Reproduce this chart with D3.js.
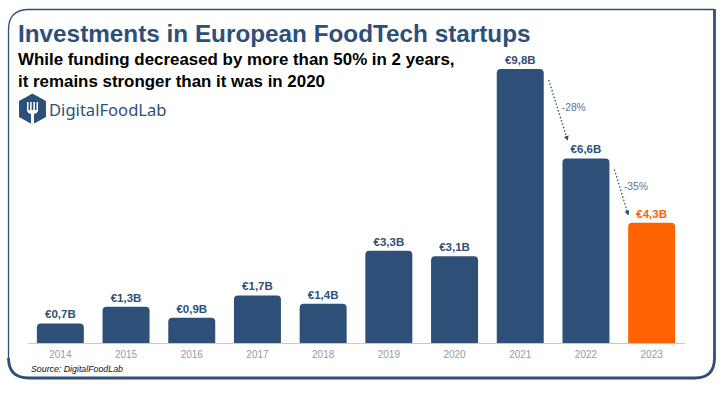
<!DOCTYPE html>
<html>
<head>
<meta charset="utf-8">
<script src="https://cdn.jsdelivr.net/npm/d3@7"></script>
<style>
    html, body { margin: 0; padding: 0; background: #fff; }
    svg { display: block; }
    text { font-family: "Liberation Sans", Arial, sans-serif; }
</style>
</head>
<body>
<div id="chart"></div>
<script>
const years = ['2014', '2015', '2016', '2017', '2018', '2019', '2020', '2021', '2022', '2023'];
const funding = [0.7, 1.3, 0.9, 1.7, 1.4, 3.3, 3.1, 9.8, 6.6, 4.3];
const fundingLabels = ['€0,7B', '€1,3B', '€0,9B', '€1,7B', '€1,4B', '€3,3B', '€3,1B', '€9,8B', '€6,6B', '€4,3B'];
const changes = [
    { from: '2021', to: '2022', label: '-28%' },
    { from: '2022', to: '2023', label: '-35%' }
];

const BLUE = '#2e5078';
const ORANGE = '#ff6200';
const width = 725, height = 393;
const baseline = 343;

const svg = d3.select('#chart').append('svg')
    .attr('width', width)
    .attr('height', height);

const x = d3.scaleBand()
    .domain(years)
    .range([27.5, 684.5])
    .paddingInner(0.285)
    .paddingOuter(0.1425);

const y = d3.scaleLinear()
    .domain([0, 9.8])
    .range([baseline, 69]);

// frame: thin on top/left, heavier on right/bottom
svg.append('path')
    .attr('d', 'M8.5,360 L8.5,30 Q8.5,9.5 29,9.5 L714,9.5')
    .attr('fill', 'none').attr('stroke', BLUE).attr('stroke-width', 1.3);
svg.append('path')
    .attr('d', 'M8.5,358 Q8.5,378 29,378 L695,378 Q714.5,378 714.5,358 L714.5,9')
    .attr('fill', 'none').attr('stroke', BLUE).attr('stroke-width', 2.8);

// titles
svg.append('text')
    .attr('x', 18).attr('y', 42)
    .attr('font-size', 24.3).attr('font-weight', 700).attr('fill', BLUE)
    .text('Investments in European FoodTech startups');

svg.selectAll('.subtitle')
    .data(['While funding decreased by more than 50% in 2 years,', 'it remains stronger than it was in 2020'])
    .join('text')
    .attr('class', 'subtitle')
    .attr('x', 18)
    .attr('y', (d, i) => 65 + i * 22)
    .attr('font-size', 16.9).attr('font-weight', 700).attr('fill', '#000')
    .text(d => d);

// logo
const logo = svg.append('g').attr('transform', 'translate(32.5,109)');
logo.append('path')
    .attr('d', 'M0,-14.5 L12.7,-7.5 L12.7,7.5 L0,14.5 L-12.7,7.5 L-12.7,-7.5 Z')
    .attr('fill', BLUE).attr('stroke', BLUE).attr('stroke-width', 1.5).attr('stroke-linejoin', 'round');
logo.append('path')
    .attr('d', 'M-5.5,-7 V1 Q-5.5,4 -1.5,5 V15 H1.5 V5 Q5.5,4 5.5,1 V-7 H4 V1 H2.4 V-7 H0.8 V1 H-0.8 V-7 H-2.4 V1 H-4 V-7 Z')
    .attr('fill', '#fff');
svg.append('text')
    .attr('x', 49).attr('y', 116)
    .style('font-family', '"Noto Sans", sans-serif')
    .attr('font-size', 16.6).attr('fill', BLUE)
    .text('DigitalFoodLab');

// bars, rounded at the top only
const corner = 4;
svg.selectAll('.bar')
    .data(years)
    .join('path')
    .attr('class', 'bar')
    .attr('fill', d => d === '2023' ? ORANGE : BLUE)
    .attr('d', (d, i) => {
        const x0 = x(d), x1 = x(d) + x.bandwidth(), top = y(funding[i]);
        return `M${x0},${baseline} V${top + corner} Q${x0},${top} ${x0 + corner},${top} `
            + `H${x1 - corner} Q${x1},${top} ${x1},${top + corner} V${baseline} Z`;
    });

svg.selectAll('.value')
    .data(years)
    .join('text')
    .attr('class', 'value')
    .attr('x', d => x(d) + x.bandwidth() / 2)
    .attr('y', (d, i) => y(funding[i]) - 5)
    .attr('text-anchor', 'middle')
    .attr('font-size', 11.5).attr('font-weight', 700)
    .attr('fill', d => d === '2023' ? ORANGE : BLUE)
    .text((d, i) => fundingLabels[i]);

// x axis
const xAxisG = svg.append('g')
    .attr('transform', `translate(0,${baseline})`)
    .call(d3.axisBottom(x).tickSize(0).tickPadding(8));
xAxisG.select('.domain').attr('stroke', '#c9c9c9').attr('stroke-width', 1);
xAxisG.selectAll('text')
    .attr('font-size', 10).attr('fill', '#9a9a9a')
    .style('font-family', '"Liberation Sans", Arial, sans-serif');

// source
svg.append('text')
    .attr('x', 31).attr('y', 371.5)
    .attr('font-size', 8.8).attr('font-style', 'italic').attr('fill', '#111')
    .text('Source: DigitalFoodLab');

// dotted arrows between the last bars
svg.append('defs').append('marker')
    .attr('id', 'arrow')
    .attr('viewBox', '0 0 6 6')
    .attr('refX', 5).attr('refY', 3)
    .attr('markerWidth', 5).attr('markerHeight', 5)
    .attr('markerUnits', 'userSpaceOnUse')
    .attr('orient', 'auto')
    .append('path')
    .attr('d', 'M0,0 L6,3 L0,6 Z')
    .attr('fill', BLUE);

const valueOf = yr => funding[years.indexOf(yr)];
// the first arrow lands above the 2022 label, the second beside the 2023 label
const arrowEndX = [5, 0];
const arrowEndY = [18.5, 8];
const labelDx = [18, 14.5];
const labelDy = [42, 32];

svg.selectAll('.change-line')
    .data(changes)
    .join('line')
    .attr('class', 'change-line')
    .attr('x1', d => x(d.from) + x.bandwidth() + 5)
    .attr('y1', d => y(valueOf(d.from)) + 11)
    .attr('x2', (d, i) => x(d.to) + arrowEndX[i])
    .attr('y2', (d, i) => y(valueOf(d.to)) - arrowEndY[i])
    .attr('stroke', BLUE).attr('stroke-width', 1.3)
    .attr('stroke-dasharray', '1.5 2')
    .attr('marker-end', 'url(#arrow)');

svg.selectAll('.change-label')
    .data(changes)
    .join('text')
    .attr('class', 'change-label')
    .attr('x', (d, i) => x(d.from) + x.bandwidth() + labelDx[i])
    .attr('y', (d, i) => y(valueOf(d.from)) + labelDy[i])
    .attr('font-size', 10.3).attr('fill', '#5b7492')
    .text(d => d.label);
</script>
</body>
</html>
